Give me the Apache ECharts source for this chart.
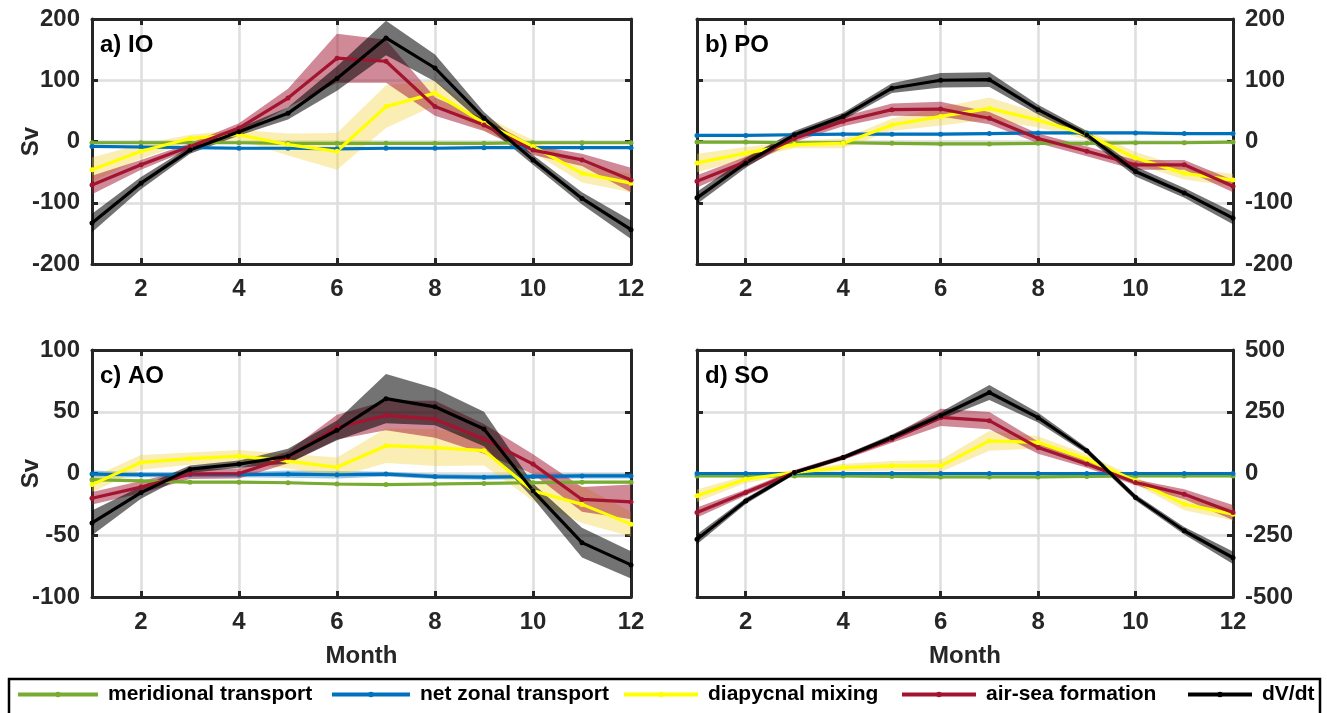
<!DOCTYPE html>
<html><head><meta charset="utf-8">
<script src="https://cdn.jsdelivr.net/npm/echarts@6/dist/echarts.min.js"></script>
<style>html,body{margin:0;padding:0;background:#fff}#c{width:1327px;height:713px}</style>
</head><body><div id="c"></div>
<script>
const months = ['1','2','3','4','5','6','7','8','9','10','11','12'];
const seriesNames = ['meridional transport','net zonal transport','diapycnal mixing','air-sea formation','dV/dt'];
const panelTitles = ['a) IO','b) PO','c) AO','d) SO'];

// a) Indian Ocean
const ioMer  = [-2,-2,-2,-2,-3,-3,-3,-3,-3,-2,-2,-2];
const ioZon  = [-8,-9,-10,-11,-11,-12,-11,-11,-10,-10,-10,-10];
const ioDia  = [-46,-16,5,11,-5,-16,57,79,30,-8,-52,-68];
const ioAir  = [-71,-38,-8,22,71,136,131,57,27,-14,-30,-63];
const ioDvdt = [-133,-68,-14,16,46,103,169,120,38,-30,-93,-144];
const ioMerErr  = [2,2,2,2,2,2,2,2,2,2,2,2];
const ioZonErr  = [2,2,2,2,2,2,2,2,2,2,2,2];
const ioDiaErr  = [20,12,6,8,18,30,35,20,12,10,15,15];
const ioAirErr  = [15,8,5,8,15,40,35,15,10,8,10,20];
const ioDvdtErr = [15,10,6,6,10,20,28,22,10,8,10,15];

// b) Pacific Ocean
const poMer  = [-1,-1,-2,-2,-3,-4,-4,-3,-3,-2,-2,-1];
const poZon  = [10,10,11,12,12,12,13,14,14,14,13,13];
const poDia  = [-35,-19,-5,-3,27,41,54,35,11,-27,-52,-63];
const poAir  = [-65,-33,5,33,52,53,38,5,-16,-38,-38,-73];
const poDvdt = [-92,-35,11,41,87,100,101,52,11,-49,-84,-125];
const poMerErr  = [2,2,2,2,2,2,2,2,2,2,2,2];
const poZonErr  = [2,2,2,2,2,2,2,2,2,2,2,2];
const poDiaErr  = [15,10,6,8,10,15,18,12,8,10,10,10];
const poAirErr  = [10,8,6,8,10,12,10,8,8,8,8,10];
const poDvdtErr = [10,8,6,6,8,12,12,8,6,8,8,10];

// c) Atlantic Ocean
const aoMer  = [-5,-6,-7,-7,-7.5,-8.5,-9,-8.5,-8,-7.5,-7,-7];
const aoZon  = [-0.5,-1,-1,-1,-0.5,-1,-0.5,-2.5,-3,-2.5,-2,-2];
const aoDia  = [-9,9,12,14,10,5,22.5,21,18.5,-14,-25,-41];
const aoAir  = [-20,-11,-0.5,0,13,37.5,47,44,28,7.6,-21,-23];
const aoDvdt = [-40,-15.5,3.5,7.6,14,35,60.6,54,36,-14,-56,-74];
const aoMerErr  = [1,1,1,1,1,1,1,1,1,1,1,1];
const aoZonErr  = [3,2,2,2,3,3,2,2,2,2,2,2];
const aoDiaErr  = [6,6,5,5,6,8,14,15,12,8,15,10];
const aoAirErr  = [5,5,4,4,5,10,12,15,12,8,10,14];
const aoDvdtErr = [10,5,3,3,6,8,20,15,14,6,12,11];

// d) Southern Ocean
const soMer  = [-10,-10,-10,-10,-12,-14,-14,-14,-12,-10,-10,-10];
const soZon  = [0,0,0,0,0,0,0,0,0,0,0,0];
const soDia  = [-90,-23,4,24,31,31,132,126,58,-30,-124,-165];
const soAir  = [-158,-77,4,65,139,227,214,105,38,-36,-84,-158];
const soDvdt = [-266,-111,4,65,146,234,328,226,92,-97,-232,-341];
const soMerErr  = [5,5,5,5,5,5,5,5,5,5,5,5];
const soZonErr  = [5,5,5,5,5,5,5,5,5,5,5,5];
const soDiaErr  = [25,15,10,15,20,25,40,25,20,15,25,25];
const soAirErr  = [20,12,10,10,15,35,35,25,15,12,20,30];
const soDvdtErr = [20,12,8,8,12,15,30,20,12,12,15,25];

// y-axis ticks [min, max, step]
const yTicks = [[-200,200,100],[-200,200,100],[-100,100,50],[-500,500,250]];

const panels = [
  {vals:[ioMer,ioZon,ioDia,ioAir,ioDvdt], errs:[ioMerErr,ioZonErr,ioDiaErr,ioAirErr,ioDvdtErr]},
  {vals:[poMer,poZon,poDia,poAir,poDvdt], errs:[poMerErr,poZonErr,poDiaErr,poAirErr,poDvdtErr]},
  {vals:[aoMer,aoZon,aoDia,aoAir,aoDvdt], errs:[aoMerErr,aoZonErr,aoDiaErr,aoAirErr,aoDvdtErr]},
  {vals:[soMer,soZon,soDia,soAir,soDvdt], errs:[soMerErr,soZonErr,soDiaErr,soAirErr,soDvdtErr]}
];

const lineColors = ['#77AC30','#0072BD','#FFFF00','#A2142F','#000000'];
const bandColors = ['rgba(119,172,48,0.4)','rgba(0,114,189,0.4)','rgba(242,210,60,0.38)','rgba(162,20,47,0.5)','rgba(0,0,0,0.55)'];

const FONT = 'Liberation Sans, Arial, sans-serif';
const TXT = '#262626';
const grids = [
  {left:92, top:19, width:539, height:245},
  {left:697, top:19, width:536, height:245},
  {left:92, top:350, width:539, height:247},
  {left:697, top:350, width:536, height:247}
];
const even = (i) => (i + 1) % 2 === 0;
const frame = {show:true, onZero:false, lineStyle:{color:TXT, width:3}};
const tickIn = {show:true, inside:true, length:6, interval:even, lineStyle:{color:TXT, width:3}};

const xAxis = [], yAxis = [], series = [], title = [];
grids.forEach((g, i) => {
  const bottomRow = i >= 2;
  xAxis.push({type:'category', gridIndex:i, data:months, boundaryGap:false, position:'bottom',
    axisLine:frame, axisTick:tickIn,
    axisLabel:{interval:even, margin:13, color:TXT, fontFamily:FONT, fontWeight:'bold', fontSize:24},
    splitLine:{show:true, interval:even, lineStyle:{color:'#dedede', width:2.5}},
    name: bottomRow ? 'Month' : '', nameLocation:'middle', nameGap:47, nameMoveOverlap:false,
    nameTextStyle:{color:TXT, fontFamily:FONT, fontWeight:'bold', fontSize:24}});
  xAxis.push({type:'category', gridIndex:i, data:months, boundaryGap:false, position:'top',
    axisLine:frame, axisTick:tickIn, axisLabel:{show:false}, splitLine:{show:false}});
  const [mn, mx, iv] = yTicks[i];
  const rightSide = (i % 2) === 1;
  yAxis.push({type:'value', gridIndex:i, min:mn, max:mx, interval:iv, position: rightSide ? 'right' : 'left',
    axisLine:frame, axisTick:{show:true, inside:true, length:6, lineStyle:{color:TXT, width:3}},
    axisLabel:{margin:12, color:TXT, fontFamily:FONT, fontWeight:'bold', fontSize:24},
    splitLine:{show:true, lineStyle:{color:'#dedede', width:2.5}},
    name: rightSide ? '' : 'Sv', nameLocation:'middle', nameGap:49, nameMoveOverlap:false,
    nameTextStyle:{color:TXT, fontFamily:FONT, fontWeight:'bold', fontSize:24}});
  yAxis.push({type:'value', gridIndex:i, min:mn, max:mx, interval:iv, position: rightSide ? 'left' : 'right',
    axisLine:frame, axisTick:{show:true, inside:true, length:6, lineStyle:{color:TXT, width:3}},
    axisLabel:{show:false}, splitLine:{show:false}});
  title.push({text:panelTitles[i], left:g.left + 8, top:g.top + 14, padding:0,
    textStyle:{color:'#000', fontFamily:FONT, fontWeight:'bold', fontSize:24}});

  const p = panels[i];
  p.vals.forEach((v, k) => {
    const e = p.errs[k];
    const lower = v.map((y, j) => y - e[j]);
    const width = e.map((d) => 2 * d);
    const stackId = 'band' + i + '_' + k;
    series.push({type:'line', xAxisIndex:2*i, yAxisIndex:2*i, data:lower, stack:stackId, stackStrategy:'all',
      symbol:'none', lineStyle:{opacity:0}, silent:true, animation:false});
    series.push({type:'line', xAxisIndex:2*i, yAxisIndex:2*i, data:width, stack:stackId, stackStrategy:'all',
      symbol:'none', lineStyle:{opacity:0}, areaStyle:{color:bandColors[k], opacity:1}, silent:true, animation:false});
    series.push({type:'line', name:seriesNames[k], xAxisIndex:2*i, yAxisIndex:2*i, data:v,
      symbol:'circle', symbolSize:5, showSymbol:true, color:lineColors[k],
      lineStyle:{color:lineColors[k], width:3.2}, itemStyle:{color:lineColors[k]}, animation:false});
  });
});

const legendLeft = [16, 330, 622, 900, 1186];
const legendIconW = [80, 78, 74, 74, 64];
const legend = seriesNames.map((n, k) => ({
  data:[n], left:legendLeft[k], top:684, itemWidth:legendIconW[k], itemHeight:7, itemGap:0, padding:[0,0,0,0],
  lineStyle:{width:4},
  textStyle:{color:'#000', fontFamily:FONT, fontWeight:'bold', fontSize:21, padding:[0,0,0,5]},
  selectedMode:false
}));

const chart = echarts.init(document.getElementById('c'), null, {renderer:'canvas'});
chart.setOption({
  animation:false,
  backgroundColor:'#fff',
  grid:grids,
  xAxis, yAxis, series, title, legend,
  graphic:[{type:'rect', shape:{x:9, y:679, width:1311, height:40}, style:{fill:'none', stroke:'#000', lineWidth:2.5}, z:-1}]
});
</script></body></html>
